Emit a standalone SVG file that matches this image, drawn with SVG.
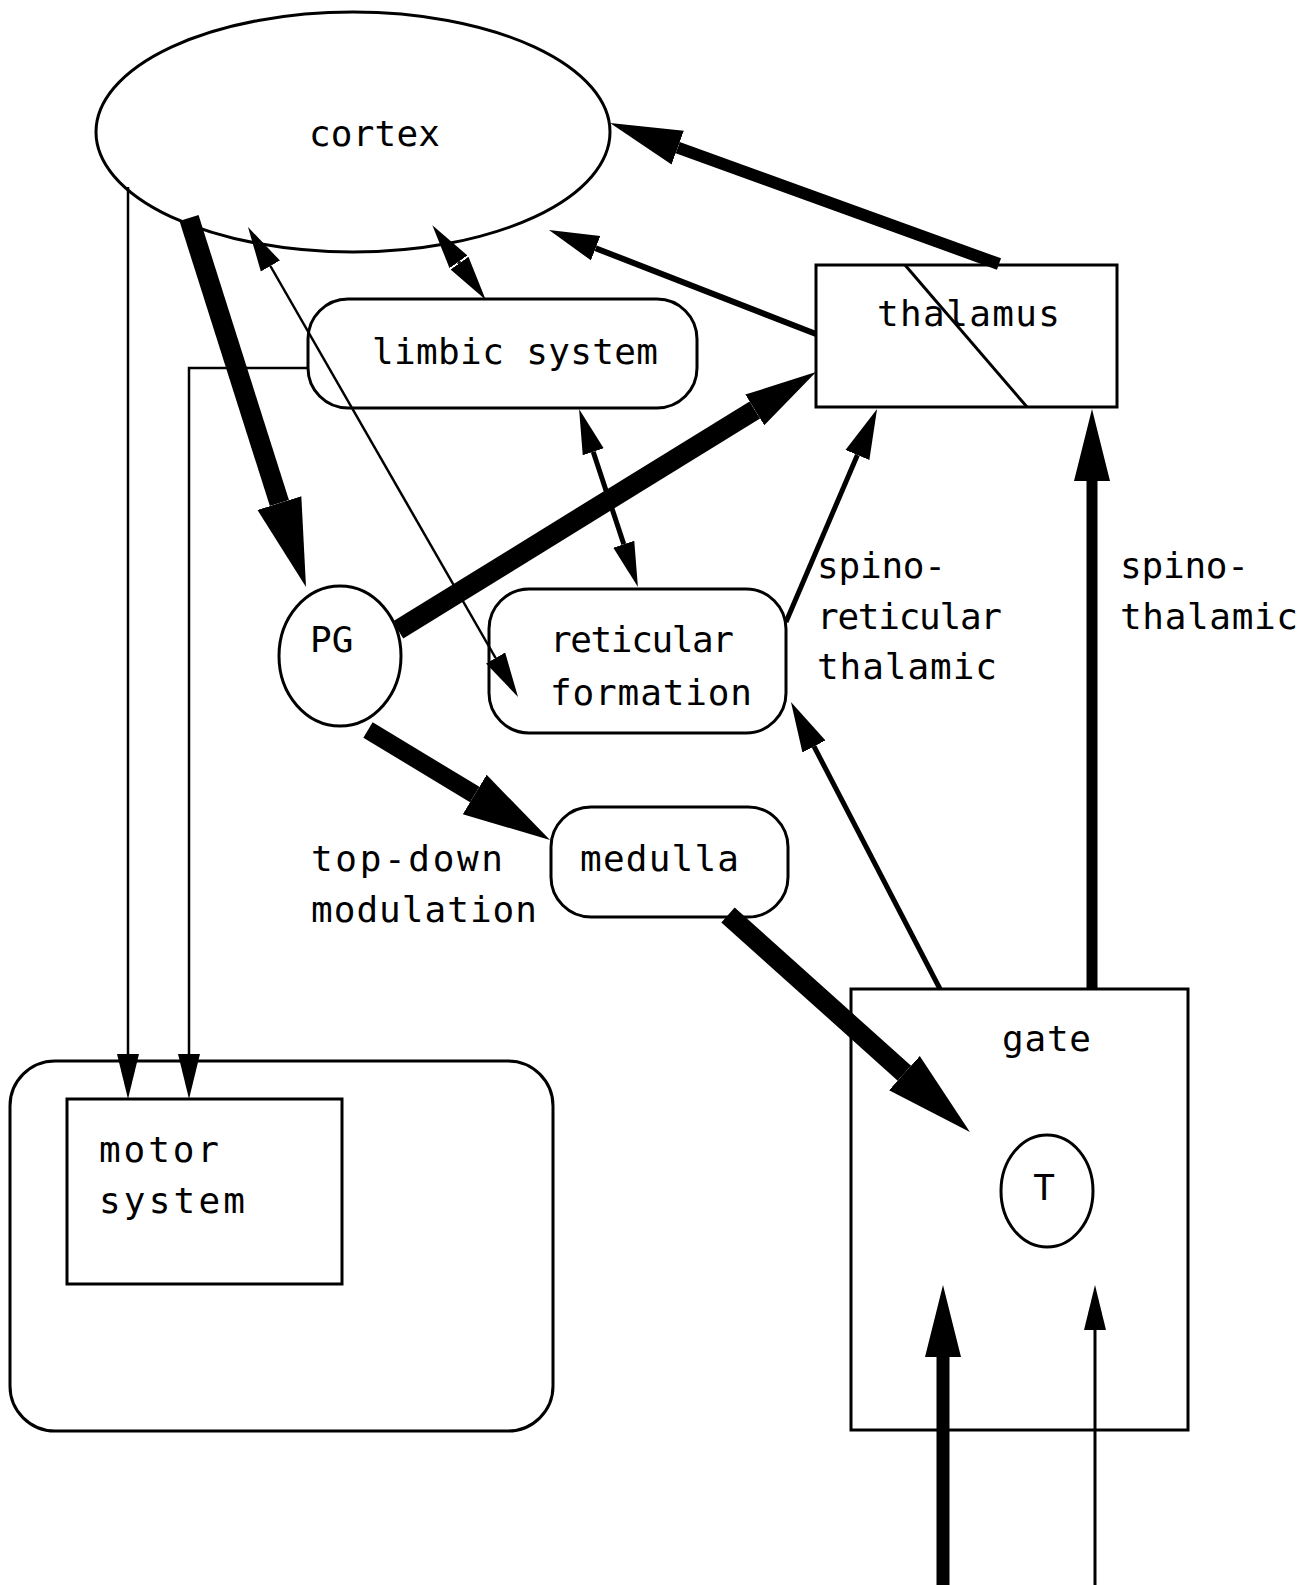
<svg xmlns="http://www.w3.org/2000/svg" width="1316" height="1585" viewBox="0 0 1316 1585">
<style>
.shape{fill:none;stroke:#000;stroke-width:3}
.lbl{font-family:"DejaVu Sans Mono","Liberation Mono",monospace;font-size:36px;fill:#000}
.c{stroke:#000;fill:none;stroke-linecap:butt}
</style>
<defs>
<marker id="mXL" markerUnits="userSpaceOnUse" markerWidth="90" markerHeight="50" viewBox="0 -25 90 50" refX="0" refY="0" orient="auto-start-reverse"><path d="M0,-23 L88,0 L0,23 Z" fill="#000"/></marker>
<marker id="mL" markerUnits="userSpaceOnUse" markerWidth="74" markerHeight="40" viewBox="0 -20 74 40" refX="0" refY="0" orient="auto-start-reverse"><path d="M0,-18 L72,0 L0,18 Z" fill="#000"/></marker>
<marker id="mM" markerUnits="userSpaceOnUse" markerWidth="52" markerHeight="30" viewBox="0 -15 52 30" refX="0" refY="0" orient="auto-start-reverse"><path d="M0,-13 L50,0 L0,13 Z" fill="#000"/></marker>
<marker id="mS" markerUnits="userSpaceOnUse" markerWidth="47" markerHeight="26" viewBox="0 -13 47 26" refX="0" refY="0" orient="auto-start-reverse"><path d="M0,-11 L45,0 L0,11 Z" fill="#000"/></marker>
</defs>
<rect width="1316" height="1585" fill="#fff"/>

<g id="cortex">
<ellipse class="shape" cx="353" cy="132" rx="257" ry="120"/>
<text class="lbl" x="309" y="146" textLength="131" lengthAdjust="spacing">cortex</text>
</g>
<g id="limbic">
<rect class="shape" x="308" y="299" width="389" height="109" rx="40"/>
<text class="lbl" x="372" y="364" textLength="286" lengthAdjust="spacing">limbic system</text>
</g>
<g id="thalamus">
<rect class="shape" x="816" y="265" width="301" height="142"/>
<line class="shape" x1="905" y1="265" x2="1027" y2="407"/>
<text class="lbl" x="877" y="326" textLength="183" lengthAdjust="spacing">thalamus</text>
</g>
<g id="pg">
<ellipse class="shape" cx="340" cy="656" rx="61" ry="70"/>
<text class="lbl" x="310" y="652">PG</text>
</g>
<g id="reticular">
<rect class="shape" x="489" y="589" width="297" height="144" rx="40"/>
<text class="lbl" x="550" y="652" textLength="184" lengthAdjust="spacing">reticular</text>
<text class="lbl" x="550" y="705" textLength="202" lengthAdjust="spacing">formation</text>
</g>
<g id="medulla">
<rect class="shape" x="551" y="807" width="237" height="110" rx="40"/>
<text class="lbl" x="580" y="871" textLength="159" lengthAdjust="spacing">medulla</text>
</g>
<g id="gate">
<rect class="shape" x="851" y="989" width="337" height="441"/>
<text class="lbl" x="1002" y="1051" textLength="89" lengthAdjust="spacing">gate</text>
</g>
<g id="t">
<ellipse class="shape" cx="1047" cy="1191" rx="46" ry="56"/>
<text class="lbl" x="1044" y="1200" text-anchor="middle">T</text>
</g>
<g id="motor-outer">
<rect class="shape" x="10" y="1061" width="543" height="370" rx="45"/>
</g>
<g id="motor">
<rect class="shape" x="67" y="1099" width="275" height="185"/>
<text class="lbl" x="99" y="1162" textLength="120" lengthAdjust="spacing">motor</text>
<text class="lbl" x="99" y="1213" textLength="146" lengthAdjust="spacing">system</text>
</g>
<g id="labels">
<text class="lbl" x="817" y="578" textLength="129" lengthAdjust="spacing">spino-</text>
<text class="lbl" x="817" y="629" textLength="185" lengthAdjust="spacing">reticular</text>
<text class="lbl" x="817" y="679" textLength="180" lengthAdjust="spacing">thalamic</text>
<text class="lbl" x="1120" y="578" textLength="129" lengthAdjust="spacing">spino-</text>
<text class="lbl" x="1120" y="629" textLength="178" lengthAdjust="spacing">thalamic</text>
<text class="lbl" x="311" y="871" textLength="192" lengthAdjust="spacing">top-down</text>
<text class="lbl" x="311" y="922" textLength="226" lengthAdjust="spacing">modulation</text>
</g>

<g id="connectors">
<line class="c" x1="999" y1="264" x2="677.7" y2="147.6" stroke-width="12" marker-end="url(#mL)"/>
<line class="c" x1="816" y1="334" x2="595.6" y2="248.2" stroke-width="6" marker-end="url(#mM)"/>
<line class="c" x1="189" y1="218" x2="279.4" y2="503.1" stroke-width="20" marker-end="url(#mXL)"/>
<line class="c" x1="458.5" y1="261.8" x2="459.5" y2="263.2" stroke-width="4" marker-start="url(#mS)" marker-end="url(#mS)"/>
<line class="c" x1="270.4" y1="266" x2="495.6" y2="658" stroke-width="2.5" marker-start="url(#mS)" marker-end="url(#mS)"/>
<line class="c" x1="593.2" y1="451.7" x2="623.8" y2="544.3" stroke-width="5" marker-start="url(#mS)" marker-end="url(#mS)"/>
<line class="c" x1="398" y1="630" x2="754.8" y2="409.9" stroke-width="20" marker-end="url(#mL)"/>
<line class="c" x1="786" y1="622" x2="857.4" y2="455" stroke-width="5" marker-end="url(#mM)"/>
<line class="c" x1="940" y1="989" x2="814" y2="746.4" stroke-width="5" marker-end="url(#mM)"/>
<line class="c" x1="1092" y1="989" x2="1092" y2="481" stroke-width="11" marker-end="url(#mL)"/>
<line class="c" x1="368" y1="730" x2="474.7" y2="794.5" stroke-width="18" marker-end="url(#mXL)"/>
<line class="c" x1="728" y1="915" x2="904.4" y2="1073.2" stroke-width="20" marker-end="url(#mXL)"/>
<line class="c" x1="943" y1="1585" x2="943" y2="1357" stroke-width="13" marker-end="url(#mL)"/>
<line class="c" x1="1095" y1="1585" x2="1095" y2="1330" stroke-width="3" marker-end="url(#mS)"/>
<line class="c" x1="128" y1="187" x2="128" y2="1054" stroke-width="2.5" marker-end="url(#mS)"/>
<path class="c" d="M308,368 H189 V1054" stroke-width="2.5" marker-end="url(#mS)"/>
</g>
</svg>
